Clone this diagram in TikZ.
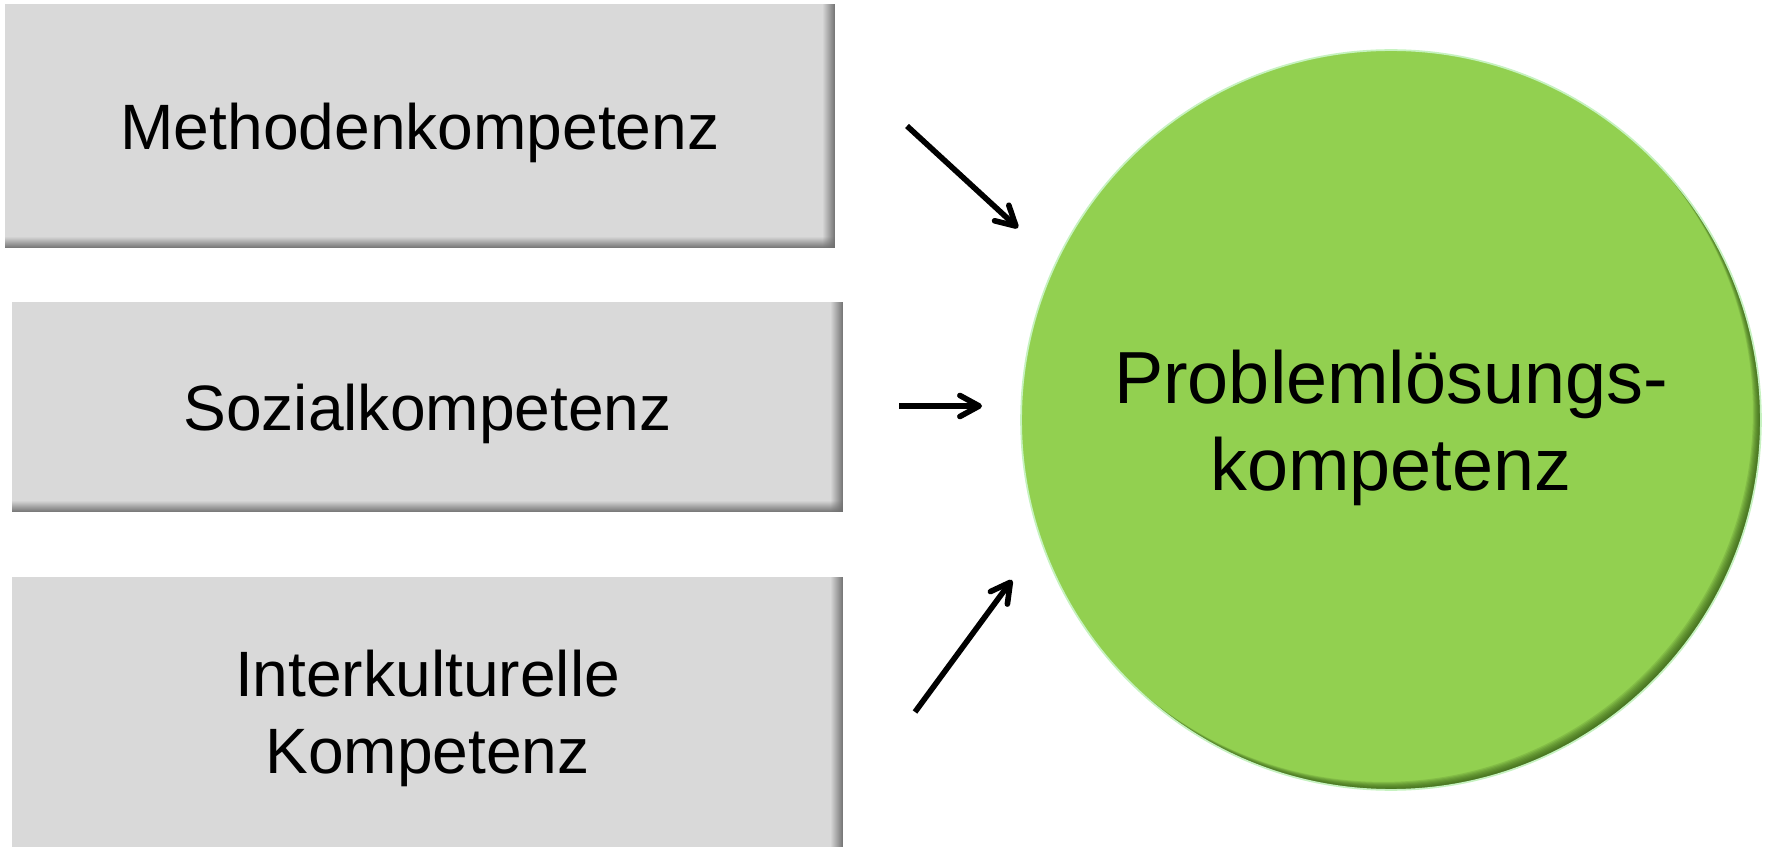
\documentclass[tikz,border=0pt]{standalone}
\usepackage{fontspec}
\setmainfont{Liberation Sans}
\usepackage{xcolor}
\usepackage{tikz}
\usetikzlibrary{arrows.meta,positioning,fadings}

\definecolor{boxgray}{HTML}{D9D9D9}
\definecolor{boxshade}{HTML}{6F6F6F}
\definecolor{probgreen}{HTML}{92D050}
\definecolor{rimgreen}{HTML}{C6F2C0}
\definecolor{shadowgreen}{HTML}{2F5512}

\begin{document}
\begin{tikzpicture}[x=0.02cm, y=-0.02cm,
            kbox/.style = {rectangle, fill=boxgray, inner sep=0pt, align=center,
                font=\fontsize{36.5pt}{43.8pt}\selectfont},
            kpfeil/.style = {line width=3.2pt, -{Straight Barb[length=11pt,width=12pt,round]}}]
        \useasboundingbox (0,0) rectangle (1769,847);
        % die drei Kompetenzen
        \node[kbox, text depth=0pt, minimum width=16.6cm, minimum height=4.88cm] (methode) at (420,126) {Methodenkompetenz};
        \node[kbox, text depth=0pt, minimum width=16.62cm, minimum height=4.2cm] (sozial) at (427.5,407) {Sozialkompetenz};
        \node[kbox, minimum width=16.62cm, minimum height=5.64cm] (interkult) at (427.5,718) {Interkulturelle\\Kompetenz};
        \foreach \b in {methode,sozial,interkult} {
            \fill[boxshade, path fading=west] ([xshift=-0.26cm]\b.north east) rectangle (\b.south east);
            \fill[boxshade, path fading=north] ([yshift=0.24cm]\b.south west) rectangle (\b.south east);
        }
        % der Kreis
        \node[circle, fill=probgreen, minimum size=14.8cm, inner sep=0pt, align=center, text depth=0pt,
            font=\fontsize{42pt}{49.5pt}\selectfont] (prob) at (1391,420) {Problemlösungs-\\kompetenz};
        \begin{scope}
            \clip (prob.center) circle (7.4cm);
            \foreach \s [evaluate=\s as \d using 0.02*\s] in {1,...,8}
                \fill[shadowgreen, opacity=0.15, even odd rule] (prob.center) circle (7.4cm)
                    ([shift={(-\d cm,\d cm)}]prob.center) circle (7.4cm);
        \end{scope}
        \draw[rimgreen, line width=1pt] (prob.center) circle (7.4cm);
        % Pfeile
        \coordinate (m-a) at (907,126);
        \coordinate (m-e) at (1018,228);
        \coordinate (s-a) at (899,406);
        \coordinate (s-e) at (982,406);
        \coordinate (i-a) at (915,712);
        \coordinate (i-e) at (1012,580);
        \draw[kpfeil] (m-a) -- (m-e);
        \draw[kpfeil] (s-a) -- (s-e);
        \draw[kpfeil] (i-a) -- (i-e);
\end{tikzpicture}
\end{document}
